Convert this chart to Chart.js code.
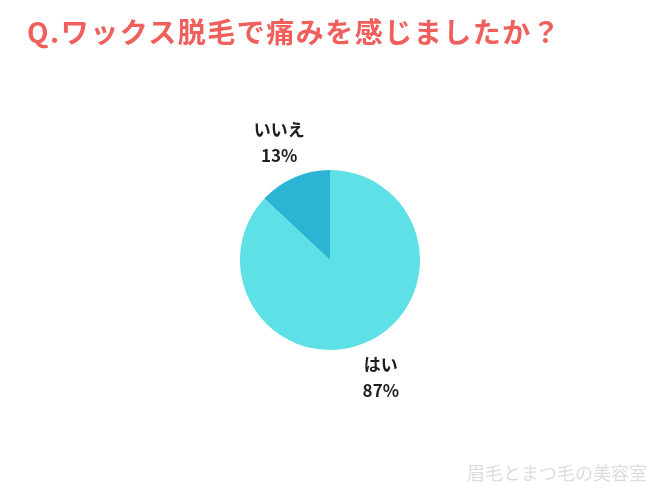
<!DOCTYPE html>
<html>
<head>
<meta charset="utf-8">
<script src="https://cdn.jsdelivr.net/npm/chart.js@4"></script>
<style>
  html, body { margin: 0; padding: 0; background: #fff; }
  #wrap { position: relative; width: 650px; height: 488px; overflow: hidden; }
  #chart { position: absolute; left: 0; top: 0; }
  .title {
    position: absolute; left: 27px; top: 11px;
    font-family: 'Noto Sans CJK JP', sans-serif; font-weight: 700;
    font-size: 28px; color: #ef5f5c; white-space: nowrap; letter-spacing: 1.5px;
  }
  .mark {
    position: absolute; right: 3px; top: 459px;
    font-family: 'Noto Sans CJK JP', sans-serif; font-size: 18px;
    color: #dcdcdc; white-space: nowrap;
  }
</style>
</head>
<body>
<div id="wrap">
  <canvas id="chart" width="650" height="488"></canvas>
  <div class="title">Q.ワックス脱毛で痛みを感じましたか？</div>
  <div class="mark">眉毛とまつ毛の美容室</div>
</div>
<script>
const labels = ['はい', 'いいえ'];
const values = [87, 13];
const colors = ['#5de0e6', '#2cb4d5'];

// answer labels outside each slice
const outsideLabels = {
  id: 'outsideLabels',
  afterDatasetsDraw(chart) {
    const ctx = chart.ctx;
    const arcs = chart.getDatasetMeta(0).data;
    ctx.save();
    ctx.fillStyle = '#1e1e1e';
    ctx.textAlign = 'center';
    ctx.textBaseline = 'middle';
    ctx.font = "700 17px 'Noto Sans CJK JP', sans-serif";
    arcs.forEach((arc, i) => {
      const mid = (arc.startAngle + arc.endAngle) / 2;
      const r = arc.outerRadius + 38;
      const x = arc.x + Math.cos(mid) * r;
      const y = arc.y + Math.sin(mid) * r;
      ctx.fillText(labels[i], x, y - 13);
      ctx.fillText(values[i] + '%', x, y + 13);
    });
    ctx.restore();
  }
};

new Chart(document.getElementById('chart'), {
  type: 'pie',
  data: {
    labels,
    datasets: [{
      data: values,
      backgroundColor: colors,
      borderWidth: 0,
    }],
  },
  options: {
    responsive: false,
    animation: false,
    layout: { padding: { top: 170, bottom: 138, left: 240, right: 230 } },
    plugins: {
      legend: { display: false },
      tooltip: { enabled: false },
    },
  },
  plugins: [outsideLabels],
});
</script>
</body>
</html>
